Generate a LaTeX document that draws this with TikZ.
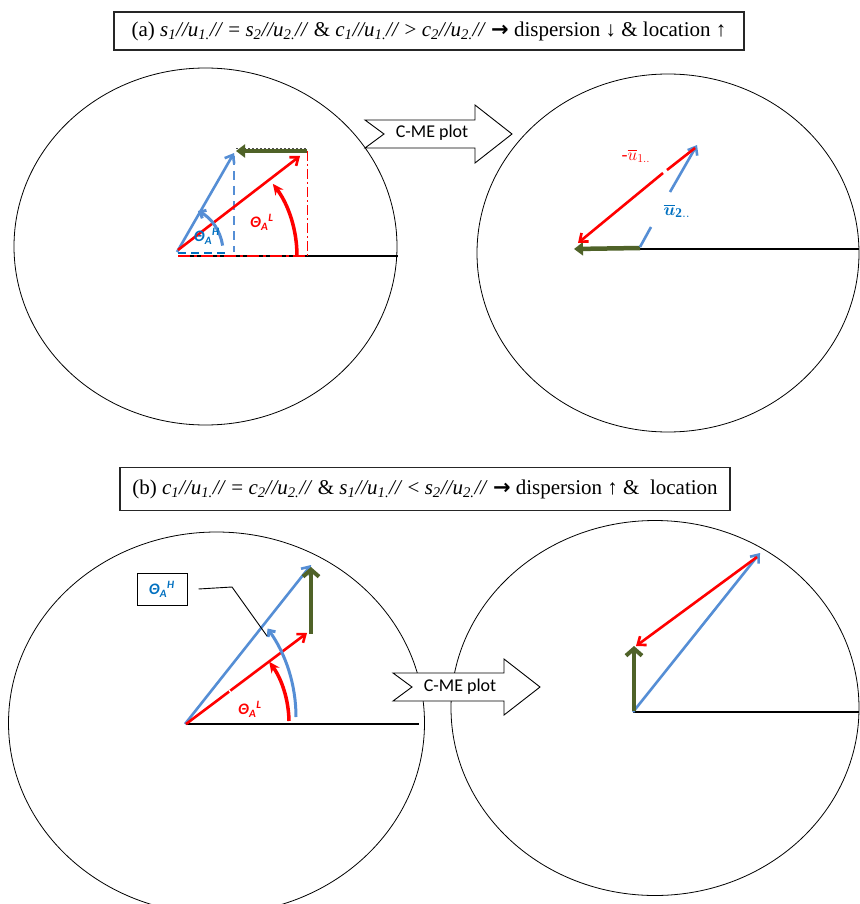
\documentclass[tikz,border=0pt]{standalone}
\usepackage{fontspec}
\usepackage{amsmath}
\setmainfont{Liberation Serif}
\newfontfamily\calib{Carlito}
\newfontfamily\dejavu{DejaVu Sans}
\usetikzlibrary{arrows.meta}
\definecolor{pblue}{RGB}{85,142,213}
\definecolor{dblue}{RGB}{0,112,192}
\definecolor{ogreen}{RGB}{79,98,40}
\tikzset{
  titlebox/.style={draw=black!85, line width=1.2pt, inner sep=0pt, font=\fontsize{21}{24}\selectfont},
  ell/.style={draw=black, line width=0.8pt},
  axisline/.style={draw=black, line width=1.2pt},
  cmearrow/.style={draw=black, fill=white, line width=0.9pt, line join=miter},
  cmetext/.style={font=\calib\fontsize{18}{20}\selectfont, inner sep=0pt},
  vred/.style={draw=red, line width=2.6pt, -{Straight Barb[length=7pt,width=11pt]}},
  vblue/.style={draw=pblue, line width=2.6pt, -{Straight Barb[length=7pt,width=11pt]}},
  vgreenF/.style={draw=ogreen, line width=4.5pt, -{Triangle[length=9pt,width=13pt]}},
  vgreenB/.style={draw=ogreen, line width=4pt, -{Straight Barb[length=7pt,width=16pt]}},
  redarc/.style={draw=red, line width=3.5pt, -{Stealth[length=11pt,width=10pt]}},
  bluearc/.style={draw=pblue, line width=3pt, -{Straight Barb[length=5pt,width=9pt]}},
  thlab/.style={font=\calib\bfseries\itshape\fontsize{16}{18}\selectfont, inner sep=0pt},
}
\begin{document}
\begin{tikzpicture}[x=1pt,y=-1pt]
\useasboundingbox (0,0) rectangle (859,904);
\fill[white] (0,0) rectangle (859,904);

% ---------- title boxes ----------
\node[titlebox, minimum width=630pt, minimum height=38pt] (boxa) at (429,31)
 {(a) \textit{s\textsubscript{1}//u\textsubscript{1.}//} = \textit{s\textsubscript{2}//u\textsubscript{2.}//} \& \textit{c\textsubscript{1}//u\textsubscript{1.}//} > \textit{c\textsubscript{2}//u\textsubscript{2.}//} {\dejavu\bfseries →} dispersion ↓ \& location ↑};
\node[titlebox, minimum width=610pt, minimum height=43pt] (boxb) at (425,489)
 {(b) \textit{c\textsubscript{1}//u\textsubscript{1.}//} = \textit{c\textsubscript{2}//u\textsubscript{2.}//} \& \textit{s\textsubscript{1}//u\textsubscript{1.}//} < \textit{s\textsubscript{2}//u\textsubscript{2.}//} {\dejavu\bfseries →} dispersion ↑ \& \ location};

% ---------- ellipses ----------
\draw[ell] (205.5,246.5) ellipse [x radius=191.5pt, y radius=178.5pt];
\draw[ell] (668,253) ellipse [x radius=191pt, y radius=179pt];
\draw[ell] (216.5,723) ellipse [x radius=208pt, y radius=191pt];
\draw[ell] (655,708) ellipse [x radius=204pt, y radius=187.5pt];

% ---------- C-ME plot arrows ----------
\draw[cmearrow] (365,120) -- (475,120) -- (475,105) -- (512,134) -- (475,163) -- (475,148) -- (365,148) -- (384,134) -- cycle;
\node[cmetext] (cme1) at (432,133) {C-ME plot};
\draw[cmearrow] (393,673) -- (504,673) -- (504,659) -- (540,687) -- (504,715) -- (504,701) -- (393,701) -- (412,687) -- cycle;
\node[cmetext] (cme2) at (460,687) {C-ME plot};

% ---------- (a) left ----------
\coordinate (oA) at (177,252);
\draw[axisline] (178,256) -- (398,256);
\draw[dblue, line width=2.2pt, dash pattern=on 8pt off 5pt] (178,253) -- (226,253);
\draw[pblue, line width=2.2pt, dash pattern=on 9pt off 6pt] (234,156) -- (234,252);
\draw[red, line width=2.5pt, dash pattern=on 12pt off 4pt on 3pt off 4pt] (178,256) -- (306,256);
\draw[red, line width=1pt, dash pattern=on 10pt off 3pt on 2pt off 3pt] (307,151) -- (307,256);
\draw[black!70, line width=1.5pt, dash pattern=on 2pt off 2pt] (236,148.5) -- (307,148.5);
\draw[vblue] (oA) -- (234,153);
\draw[vred] (178,250) -- (300,156);
\draw[vgreenF] (307,151) -- (236,151);
\draw[redarc] (297,256) arc[start angle=0, end angle=37, radius=120pt];
\draw[bluearc] (222.6,245.6) arc[start angle=8, end angle=63, radius=46pt];
\node[thlab, text=dblue] (thHa) at (207,236) {Θ\textsubscript{A}\textsuperscript{H}};
\node[thlab, text=red] (thLa) at (262,222) {Θ\textsubscript{A}\textsuperscript{L}};

% ---------- (a) right ----------
\draw[axisline] (640,249) -- (859,249);
\draw[vgreenF] (640,248) -- (574,249);
\draw[pblue, line width=2.6pt] (640,247) -- (651,227);
\draw[vblue] (670,192) -- (697,145);
\draw[red, line width=2.6pt] (695,148) -- (667,170);
\draw[vred] (663,173) -- (578,243);
\node[font=\fontsize{18}{20}\selectfont, text=red, inner sep=0pt] (lu1) at (636,156) {-$\overline{u}_{1..}$};
\node[font=\fontsize{19}{21}\selectfont, text=dblue, inner sep=0pt] (lu2) at (677,211) {$\boldsymbol{\overline{u}}_{\mathbf{2..}}$};

% ---------- (b) left ----------
\coordinate (oB) at (186,724);
\draw[axisline] (186,724) -- (419,724);
\draw[vblue] (185,724) -- (311,565);
\draw[vred] (186,724) -- (307,633);
\draw[white, line width=1.3pt] (229,690) -- (231,693);
\draw[vgreenB] (311,634) -- (311,567);
\draw[redarc] (289,721) arc[start angle=1, end angle=36, radius=104pt];
\draw[bluearc] (296,717) arc[start angle=0, end angle=35.6, radius=152pt];
\node[draw=black, line width=1pt, minimum width=50pt, minimum height=32pt, inner sep=0pt] (thbox) at (162,589) {};
\node[thlab, text=dblue] (thHb) at (thbox.center) {Θ\textsubscript{A}\textsuperscript{H}};
\draw[black, line width=0.9pt] ([xshift=11pt]thbox.east) -- (232,587) -- (267,636);
\node[thlab, text=red] (thLb) at (250,709) {Θ\textsubscript{A}\textsuperscript{L}};

% ---------- (b) right ----------
\draw[axisline] (633,712) -- (859,712);
\draw[vblue] (633,712) -- (760,553);
\draw[vred] (757,557) -- (636,646);
\draw[vgreenB] (634,711) -- (634,646);
\end{tikzpicture}
\end{document}
